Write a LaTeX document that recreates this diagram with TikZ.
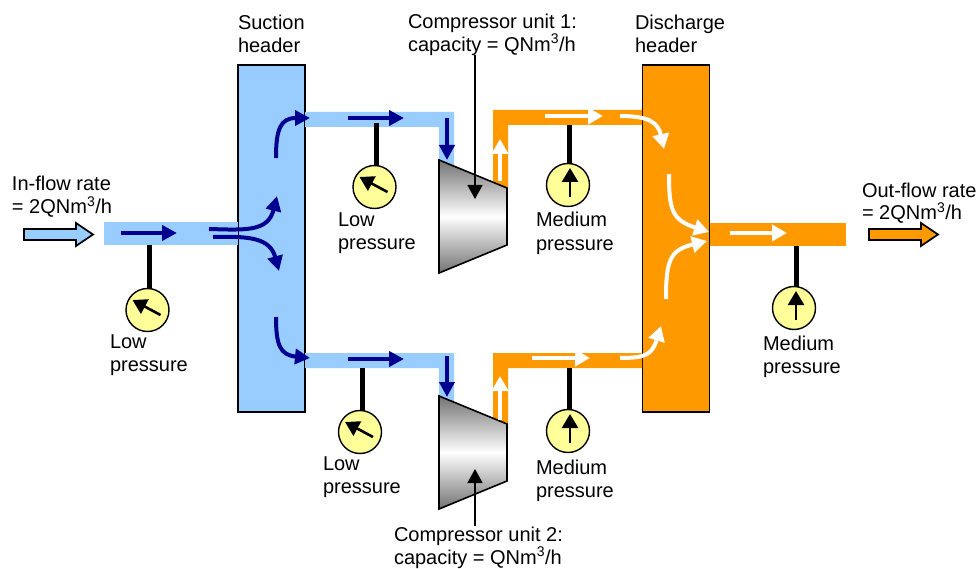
\documentclass[tikz,border=0pt]{standalone}
\usepackage{fontspec}
\setmainfont{Liberation Sans}
\usetikzlibrary{arrows.meta}
\definecolor{pipeblue}{HTML}{99CCFF}
\definecolor{pipeorange}{HTML}{FF9900}
\definecolor{navyflow}{HTML}{000090}
\definecolor{gaugeface}{HTML}{FFFF99}
\tikzset{
  headerbox/.style={draw=black,line width=1.4pt,inner sep=0pt,minimum width=67pt,minimum height=347pt},
  pipeb/.style={fill=pipeblue,draw=none},
  pipeo/.style={fill=pipeorange,draw=none},
  flowb/.style={draw=navyflow,line width=4pt,-{Triangle[length=15pt,width=15pt]}},
  floww/.style={draw=white,line width=4pt,-{Triangle[length=15pt,width=16pt]}},
  gauge/.style={circle,draw=black,line width=1.4pt,fill=gaugeface,inner sep=0pt,minimum size=43pt},
  stem/.style={draw=black,line width=5pt},
  needle/.style={draw=black,line width=2.6pt,-{Triangle[length=14pt,width=16pt]}},
  pointer/.style={draw=black,line width=1.6pt,-{Triangle[length=14pt,width=15pt]}},
  label/.style={anchor=base west,inner sep=0pt,outer sep=0pt,font=\fontsize{20pt}{23pt}\selectfont},
  hollow/.style={draw=black,line width=1.7pt},
  comp/.style={draw=black,line width=1.6pt},
  metal/.style={top color=black!55,bottom color=black!55,middle color=white},
}
\begin{document}
\begin{tikzpicture}[x=1pt,y=-1pt]
\useasboundingbox (0,0) rectangle (979,569);
% headers
\node[headerbox,fill=pipeblue] (suction) at (271.5,238.5) {};
\node[headerbox,fill=pipeorange] (discharge) at (676.25,238.5) {};
% pipes
\fill[pipeb] (104,222) rectangle (238,245);
\fill[pipeb] (305,112) -- (454,112) -- (454,170) -- (439,170) -- (439,127) -- (305,127) -- cycle;
\fill[pipeb] (305,353) -- (454,353) -- (454,405) -- (439,405) -- (439,368) -- (305,368) -- cycle;
\fill[pipeo] (642,110) -- (493,110) -- (493,190) -- (508,190) -- (508,125) -- (642,125) -- cycle;
\fill[pipeo] (642,353) -- (493,353) -- (493,430) -- (508,430) -- (508,368) -- (642,368) -- cycle;
\fill[pipeo] (710,223) rectangle (846,246);
% compressors
\coordinate (c1a) at (439,160); \coordinate (c1b) at (507,188); \coordinate (c1c) at (507,245); \coordinate (c1d) at (439,273);
\coordinate (c2a) at (439,396); \coordinate (c2b) at (507,424); \coordinate (c2c) at (507,481); \coordinate (c2d) at (439,509);
\shade[metal] (c1a) -- (c1b) -- (c1c) -- (c1d) -- cycle;
\draw[comp] (c1a) -- (c1b) -- (c1c) -- (c1d) -- cycle;
\shade[metal] (c2a) -- (c2b) -- (c2c) -- (c2d) -- cycle;
\draw[comp] (c2a) -- (c2b) -- (c2c) -- (c2d) -- cycle;
% stems and gauges
\coordinate (s1) at (149,245); \coordinate (s2) at (376,123); \coordinate (s3) at (362,368);
\coordinate (s4) at (569,125); \coordinate (s5) at (569,368); \coordinate (s6) at (796,246);
\node[gauge] (g1) at (147.5,310) {};
\node[gauge] (g2) at (374.5,187) {};
\node[gauge] (g3) at (360,432) {};
\node[gauge] (g4) at (568,185) {};
\node[gauge] (g5) at (568,431) {};
\node[gauge] (g6) at (794,308) {};
\draw[stem] (s1) -- (149,288.5);
\draw[stem] (s2) -- (376,165.5);
\draw[stem] (s3) -- (362,410.5);
\draw[stem] (s4) -- (569,163.5);
\draw[stem] (s5) -- (569,409.5);
\draw[stem] (s6) -- (796,286.5);
\draw[needle] ([shift={(13,5)}]g1.center) -- ([shift={(-15,-10)}]g1.center);
\draw[needle] ([shift={(13,5)}]g2.center) -- ([shift={(-15,-10)}]g2.center);
\draw[needle] ([shift={(13,5)}]g3.center) -- ([shift={(-15,-10)}]g3.center);
\draw[needle] ([shift={(2,12)}]g4.center) -- ([shift={(2,-17)}]g4.center);
\draw[needle] ([shift={(2,12)}]g5.center) -- ([shift={(2,-17)}]g5.center);
\draw[needle] ([shift={(2,12)}]g6.center) -- ([shift={(2,-17)}]g6.center);
% blue flow
\draw[flowb] (121,233) -- (177,233);
\draw[flowb] (209,229) .. controls (245,230) and (268,232) .. (277,196);
\draw[flowb] (213,237) .. controls (250,236) and (270,238) .. (279,271);
\draw[flowb] (276,158) .. controls (276,130) and (280,118) .. (310,118);
\draw[flowb] (276,317) .. controls (276,345) and (280,355) .. (310,358);
\draw[flowb] (348,118) -- (404,118);
\draw[flowb] (348,359) -- (404,359);
\draw[flowb] (447,118) -- (447,160);
\draw[flowb] (447,356) -- (447,397);
% white flow
\draw[floww] (500,181) -- (500,139);
\draw[floww] (500,420) -- (500,376);
\draw[floww] (545,116) -- (603,116);
\draw[floww] (532,358) -- (590,358);
\draw[floww] (620,116) .. controls (648,116) and (658,122) .. (664,149);
\draw[floww] (669,174) .. controls (669,210) and (672,220) .. (709,232);
\draw[floww] (666,299) .. controls (666,260) and (670,250) .. (707,241);
\draw[floww] (620,358) .. controls (645,358) and (652,355) .. (661,326);
\draw[floww] (730,233) -- (787,233);
% compressor pointers
\coordinate (p1) at (475,55); \coordinate (p2) at (475,526);
\draw[pointer] (p1) -- (475,199);
\draw[pointer] (p2) -- (475,469);
% hollow arrows
\draw[hollow,fill=pipeblue] (24,229) -- (76,229) -- (76,223) -- (93,234.5) -- (76,246) -- (76,240) -- (24,240) -- cycle;
\draw[hollow,fill=pipeorange] (869,229) -- (921,229) -- (921,223) -- (938,234.5) -- (921,246) -- (921,240) -- (869,240) -- cycle;
% labels
\node[label] (t1a) at (238,30) {Suction};
\node[label] (t1b) at (238,53) {header};
\node[label] (t2a) at (635,30) {Discharge};
\node[label] (t2b) at (635,53) {header};
\node[label] (t3a) at (408,29) {Compressor unit 1:};
\node[label] (t3b) at (408,51.5) {capacity = QNm\textsuperscript{3}/h};
\node[label] (t4a) at (394,541) {Compressor unit 2:};
\node[label] (t4b) at (394,564) {capacity = QNm\textsuperscript{3}/h};
\node[label] (t5a) at (12,191) {In-flow rate};
\node[label] (t5b) at (12,214) {= 2QNm\textsuperscript{3}/h};
\node[label] (t6a) at (862,198) {Out-flow rate};
\node[label] (t6b) at (862,220) {= 2QNm\textsuperscript{3}/h};
\node[label] (l1a) at (110,348) {Low};
\node[label] (l1b) at (110,371) {pressure};
\node[label] (l2a) at (338,227) {Low};
\node[label] (l2b) at (338,250) {pressure};
\node[label] (l3a) at (323,470) {Low};
\node[label] (l3b) at (323,493) {pressure};
\node[label] (m1a) at (536,227) {Medium};
\node[label] (m1b) at (536,251) {pressure};
\node[label] (m2a) at (536,474) {Medium};
\node[label] (m2b) at (536,497) {pressure};
\node[label] (m3a) at (763,350) {Medium};
\node[label] (m3b) at (763,373) {pressure};
\end{tikzpicture}
\end{document}
